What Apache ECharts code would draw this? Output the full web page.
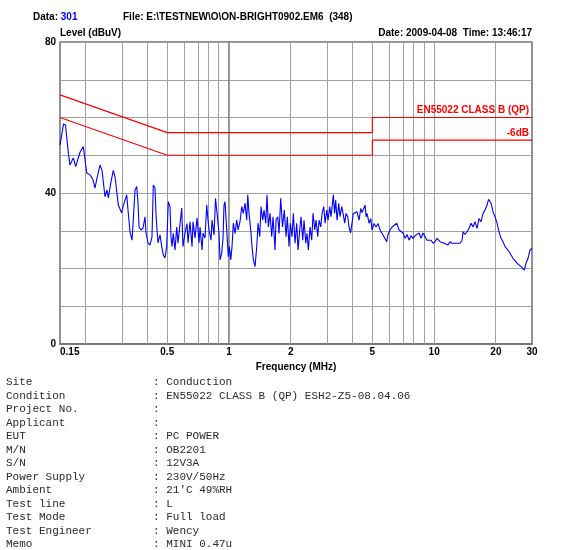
<!DOCTYPE html>
<html>
<head>
<meta charset="utf-8">
<script src="https://cdn.jsdelivr.net/npm/echarts@6/dist/echarts.min.js"></script>
<style>
  html, body { margin: 0; padding: 0; background: #ffffff; }
  #chart { width: 561px; height: 550px; }
</style>
</head>
<body>
<div id="chart"></div>
<script>
// Measured conducted emission trace (frequency in MHz, level in dBuV)
const freqMHz = [
  0.150, 0.156, 0.1596, 0.1647, 0.1678, 0.1742, 0.1789, 0.1878, 0.1949, 0.1986,
  0.2025, 0.2101, 0.2173, 0.2222, 0.2273, 0.2350, 0.2404, 0.2486, 0.2543, 0.2580,
  0.2660, 0.2729, 0.2782, 0.2887, 0.2998, 0.3043, 0.3172, 0.3218, 0.3292, 0.3367,
  0.3424, 0.3482, 0.3549, 0.3601, 0.3642, 0.3724, 0.3809, 0.3895, 0.3939, 0.4028,
  0.4119, 0.4213, 0.4275, 0.4357, 0.4406, 0.4456, 0.4506, 0.4609, 0.4698, 0.4783,
  0.4874, 0.4968, 0.5059, 0.5157, 0.5215, 0.5274, 0.5352, 0.5455, 0.5560, 0.5642,
  0.5881, 0.5967, 0.6104, 0.6242, 0.6313, 0.6456, 0.6603, 0.6678, 0.6829, 0.6984,
  0.7142, 0.7223, 0.7388, 0.7470, 0.7640, 0.7787, 0.7902, 0.7991, 0.8172, 0.8264,
  0.8453, 0.8596, 0.8841, 0.8940, 0.9041, 0.9215, 0.9350, 0.9456, 0.9564, 0.9748,
  0.9925, 1.0038, 1.0196, 1.0346, 1.0498, 1.0698, 1.0905, 1.1067, 1.1317, 1.1535,
  1.1744, 1.1971, 1.2202, 1.2341, 1.2521, 1.2763, 1.2950, 1.3142, 1.3395, 1.3654,
  1.3854, 1.4121, 1.4325, 1.4601, 1.4818, 1.5104, 1.5324, 1.5549, 1.5849, 1.6155,
  1.6391, 1.6764, 1.6950, 1.7278, 1.7534, 1.7872, 1.8234, 1.8607, 1.8967, 1.9245,
  1.9617, 1.9905, 2.0289, 2.0589, 2.0986, 2.1386, 2.1702, 2.2120, 2.2443, 2.2877,
  2.3217, 2.3664, 2.4011, 2.4362, 2.4832, 2.5311, 2.5688, 2.6185, 2.6568, 2.7081,
  2.7477, 2.8008, 2.8419, 2.8968, 2.9397, 2.9964, 3.0404, 3.0981, 3.1436, 3.2256,
  3.2697, 3.3137, 3.3627, 3.4269, 3.4775, 3.5445, 3.5966, 3.6660, 3.7199, 3.7916,
  3.8478, 3.9131, 3.9795, 4.0373, 4.1153, 4.2092, 4.3046, 4.3878, 4.4522, 4.6055,
  4.6566, 4.7094, 4.8168, 4.9098, 4.9815, 5.0945, 5.2106, 5.3285, 5.4495, 5.5731,
  5.6997, 5.8742, 5.9604, 6.0966, 6.2343, 6.5721, 6.7455, 6.8982, 7.0554, 7.2149,
  7.3794, 7.5462, 7.7183, 7.8926, 8.0726, 8.2550, 8.4432, 8.6340, 8.8310, 9.0305,
  9.2364, 9.4452, 9.6606, 9.8789, 10.104, 10.332, 10.688, 10.930, 11.179, 11.432,
  11.693, 11.957, 12.229, 12.506, 12.791, 13.080, 13.378, 13.680, 13.836, 14.151,
  14.471, 14.801, 15.135, 15.480, 15.831, 16.191, 16.558, 16.935, 17.319, 17.713,
  18.114, 18.421, 18.945, 19.377, 19.816, 20.268, 20.726, 21.195, 21.675, 22.168,
  22.670, 23.185, 23.709, 24.249, 24.797, 25.362, 25.935, 26.526, 27.528, 28.059,
  28.695, 29.349, 30.0
];
const levelDbuV = [
  52.7, 58.3, 58.0, 50.6, 47.4, 49.3, 47.0, 50.8, 52.3, 52.0,
  45.3, 44.8, 43.5, 41.3, 44.0, 47.4, 46.0, 39.0, 40.8, 38.7,
  43.0, 46.0, 44.3, 36.8, 34.7, 36.4, 39.5, 35.5, 29.7, 27.5,
  34.0, 40.8, 41.7, 37.4, 31.0, 30.2, 30.7, 33.7, 29.4, 26.8,
  26.2, 28.4, 42.1, 41.3, 34.7, 30.2, 26.8, 28.9, 25.8, 23.6,
  22.8, 25.8, 37.7, 36.4, 28.4, 25.8, 29.3, 24.9, 31.0, 26.8,
  36.0, 25.8, 29.4, 31.9, 26.8, 32.4, 25.8, 32.4, 28.1, 33.4,
  26.8, 31.0, 24.9, 29.4, 28.1, 36.8, 32.8, 30.2, 27.5, 32.8,
  28.9, 38.6, 32.0, 29.4, 22.3, 24.1, 28.1, 36.8, 37.7, 30.2,
  23.1, 25.8, 22.3, 25.8, 32.0, 29.3, 32.8, 30.2, 32.4, 36.4,
  34.6, 37.3, 32.8, 39.5, 34.6, 30.2, 25.8, 22.3, 20.5, 25.8,
  32.0, 28.4, 36.4, 32.8, 35.5, 32.0, 39.5, 31.0, 34.6, 28.4,
  33.7, 24.9, 32.8, 33.7, 29.3, 38.6, 31.0, 35.5, 28.4, 33.7,
  25.8, 32.0, 28.4, 34.6, 26.7, 32.0, 24.9, 30.2, 33.7, 27.5,
  32.8, 26.7, 29.3, 24.9, 31.0, 27.5, 34.6, 30.2, 32.8, 28.4,
  32.8, 31.0, 34.6, 36.4, 32.0, 35.5, 32.8, 36.4, 33.7, 39.5,
  34.6, 38.1, 32.8, 37.3, 33.7, 36.4, 34.6, 32.0, 34.6, 33.7,
  31.0, 29.4, 32.0, 34.6, 35.0, 35.0, 32.8, 35.9, 34.8, 36.8,
  33.7, 34.6, 32.0, 33.2, 30.2, 31.9, 31.0, 31.9, 30.2, 30.6,
  28.4, 27.1, 29.0, 30.2, 31.0, 32.0, 30.2, 30.6, 29.4, 28.0,
  29.0, 27.5, 28.7, 28.0, 28.7, 29.0, 29.4, 28.0, 29.4, 29.0,
  27.5, 28.0, 27.5, 26.7, 27.1, 28.0, 27.1, 27.5, 26.7, 27.1,
  26.2, 27.1, 26.7, 26.2, 26.7, 26.2, 26.7, 27.5, 29.7, 29.0,
  29.4, 30.6, 32.0, 31.0, 32.4, 30.6, 33.2, 32.4, 34.6, 35.5,
  36.8, 38.3, 37.3, 35.0, 33.7, 32.0, 29.7, 28.0, 27.1, 25.8,
  25.4, 24.5, 23.6, 22.7, 22.3, 21.4, 20.9, 20.5, 19.6, 21.4,
  22.7, 24.9, 25.3
];

// EN55022 Class B quasi-peak limit and the -6 dB margin line
const limitFreq = [0.15, 0.5, 5, 5, 30];
const qpLimit = [66, 56, 56, 60, 60];
const marginLimit = [60, 50, 50, 54, 54];

// Axis tick labels and vertical grid frequencies (MHz)
const xTickFreq = [0.15, 0.5, 1, 2, 5, 10, 20, 30];
const gridFreq = [0.2, 0.3, 0.4, 0.5, 0.6, 0.7, 0.8, 0.9, 1, 2, 3, 4, 5, 6, 7, 8, 9, 10, 20];
const yMin = 0, yMax = 80, yStep = 10;
const yLabelValues = [0, 40, 80];

// Test information block
const infoLabels = ['Site', 'Condition', 'Project No.', 'Applicant', 'EUT', 'M/N', 'S/N',
  'Power Supply', 'Ambient', 'Test line', 'Test Mode', 'Test Engineer', 'Memo'];
const infoValues = ['Conduction', 'EN55022 CLASS B (QP) ESH2-Z5-08.04.06', '', '', 'PC POWER',
  'OB2201', '12V3A', '230V/50Hz', "21'C 49%RH", 'L', 'Full load', 'Wency', 'MINI 0.47u'];

const lg = Math.log10;
const toXY = (fs, vs) => fs.map((f, i) => [lg(f), vs[i]]);

const chart = echarts.init(document.getElementById('chart'), null, { renderer: 'canvas' });

const SANS = 'Liberation Sans, Arial, sans-serif';
const headFont = { fontFamily: SANS, fontWeight: 'bold', fontSize: 10, fill: '#000' };

const graphics = [
  {
    type: 'text', left: 33, top: 12,
    style: {
      text: '{k|Data: }{v|301}',
      rich: {
        k: { fontFamily: SANS, fontWeight: 'bold', fontSize: 10, fill: '#000000' },
        v: { fontFamily: SANS, fontWeight: 'bold', fontSize: 10, fill: '#0000ff' }
      }
    }
  },
  { type: 'text', left: 123, top: 12, style: Object.assign({ text: 'File: E:\\TESTNEW\\O\\ON-BRIGHT0902.EM6  (348)' }, headFont) },
  { type: 'text', left: 60, top: 28, style: Object.assign({ text: 'Level (dBuV)' }, headFont) },
  { type: 'text', right: 29, top: 28, style: Object.assign({ text: 'Date: 2009-04-08  Time: 13:46:17' }, headFont) }
];

infoLabels.forEach((lab, i) => {
  const y = 377 + i * 13.5;
  const monoStyle = { fontFamily: 'Liberation Mono, Courier New, monospace', fontSize: 11, fill: '#2a2a2a' };
  graphics.push({ type: 'text', left: 6, top: y, style: Object.assign({ text: lab }, monoStyle) });
  graphics.push({ type: 'text', left: 153, top: y, style: Object.assign({ text: ': ' + infoValues[i] }, monoStyle) });
});

const axisFont = { fontFamily: SANS, fontWeight: 'bold', fontSize: 10, color: '#000' };

chart.setOption({
  animation: false,
  backgroundColor: '#ffffff',
  grid: {
    left: 60, right: 29, top: 42, bottom: 206,
    show: true, borderColor: '#6e6e6e', borderWidth: 1.5, backgroundColor: 'transparent'
  },
  xAxis: {
    type: 'value',
    min: lg(0.15), max: lg(30),
    name: 'Frequency (MHz)', nameLocation: 'middle', nameGap: 15,
    nameTextStyle: axisFont,
    axisLine: { show: true, lineStyle: { color: '#6e6e6e', width: 1.5 } },
    axisTick: { show: false },
    splitLine: { show: false },
    axisLabel: {
      customValues: xTickFreq.map(lg),
      margin: 3,
      formatter: v => String(Math.round(Math.pow(10, v) * 100) / 100),
      alignMinLabel: 'left',
      ...axisFont
    }
  },
  yAxis: {
    type: 'value',
    min: yMin, max: yMax, interval: yStep,
    axisLine: { show: true, lineStyle: { color: '#6e6e6e', width: 1.5 } },
    axisTick: { show: false },
    splitLine: { show: true, lineStyle: { color: '#a0a0a0', width: 1 } },
    axisLabel: {
      customValues: yLabelValues,
      margin: 4,
      ...axisFont
    }
  },
  series: [
    {
      name: 'grid', type: 'line', data: [], z: 1, silent: true,
      markLine: {
        z: 1, silent: true, symbol: 'none', animation: false,
        label: { show: false },
        lineStyle: { color: '#a0a0a0', width: 1, type: 'solid' },
        data: gridFreq.map(f => ({ xAxis: lg(f) }))
      }
    },
    {
      name: 'QP limit', type: 'line', z: 3, showSymbol: false, silent: true,
      data: toXY(limitFreq, qpLimit),
      lineStyle: { color: '#ff0000', width: 1.2 },
      markPoint: {
        z: 4, symbol: 'circle', symbolSize: 0, silent: true,
        label: {
          show: true, position: 'left', distance: 3, offset: [0, -7],
          formatter: 'EN55022 CLASS B (QP)',
          fontFamily: SANS, fontWeight: 'bold', fontSize: 10, color: '#ff0000'
        },
        data: [{ coord: [lg(30), 60] }]
      }
    },
    {
      name: '-6dB', type: 'line', z: 3, showSymbol: false, silent: true,
      data: toXY(limitFreq, marginLimit),
      lineStyle: { color: '#ff0000', width: 1.2 },
      markPoint: {
        z: 4, symbol: 'circle', symbolSize: 0, silent: true,
        label: {
          show: true, position: 'left', distance: 3, offset: [0, -7],
          formatter: '-6dB',
          fontFamily: SANS, fontWeight: 'bold', fontSize: 10, color: '#ff0000'
        },
        data: [{ coord: [lg(30), 54] }]
      }
    },
    {
      name: 'Level', type: 'line', z: 5, showSymbol: false, silent: true,
      data: toXY(freqMHz, levelDbuV),
      lineStyle: { color: '#0000ff', width: 1.1 }
    }
  ],
  graphic: graphics
});
</script>
</body>
</html>
